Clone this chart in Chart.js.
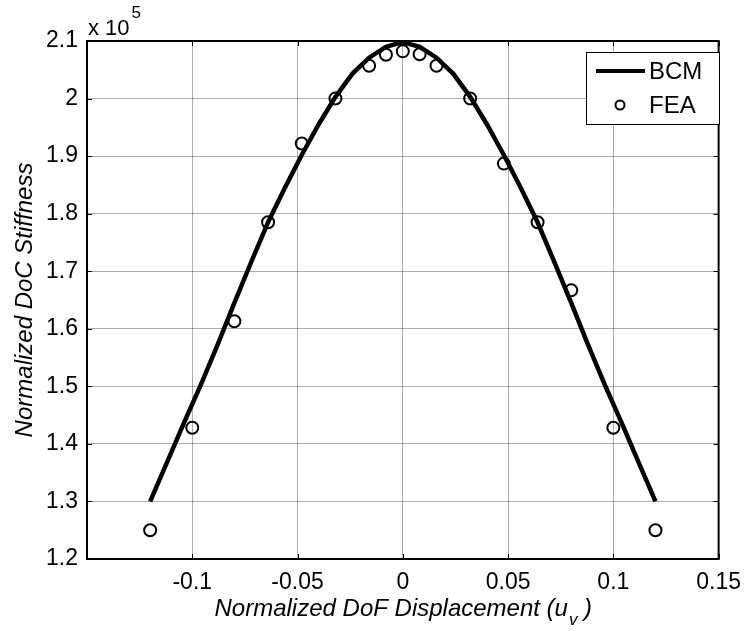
<!DOCTYPE html>
<html>
<head>
<meta charset="utf-8">
<script src="https://cdn.jsdelivr.net/npm/chart.js@4"></script>
<style>
  body { margin: 0; background: #fff; }
</style>
</head>
<body>
<canvas id="stiffness" width="751" height="631"></canvas>
<script>
// BCM curve (values in units of 10^5)
const bcmX = [-0.12, -0.112, -0.104, -0.096, -0.088, -0.08, -0.072, -0.064, -0.056, -0.048, -0.04, -0.032, -0.024, -0.016, -0.008, 0,
              0.008, 0.016, 0.024, 0.032, 0.04, 0.048, 0.056, 0.064, 0.072, 0.08, 0.088, 0.096, 0.104, 0.112, 0.12];
const bcmY = [1.300, 1.368, 1.436, 1.502, 1.572, 1.645, 1.716, 1.785, 1.845, 1.902, 1.955, 2.003, 2.043, 2.071, 2.090, 2.098,
              2.090, 2.071, 2.043, 2.003, 1.955, 1.902, 1.845, 1.785, 1.716, 1.645, 1.572, 1.502, 1.436, 1.368, 1.300];

// FEA points
const feaX = [-0.12, -0.1, -0.08, -0.064, -0.048, -0.032, -0.016, -0.008, 0, 0.008, 0.016, 0.032, 0.048, 0.064, 0.08, 0.1, 0.12];
const feaY = [1.250, 1.428, 1.613, 1.785, 1.922, 2.000, 2.057, 2.076, 2.082, 2.077, 2.057, 2.000, 1.887, 1.785, 1.667, 1.428, 1.250];

const xTickLabels = ['', '-0.1', '-0.05', '0', '0.05', '0.1', '0.15'];
const yTickLabels = ['1.2', '1.3', '1.4', '1.5', '1.6', '1.7', '1.8', '1.9', '2', '2.1'];

const FONT = '"Liberation Sans", Arial, sans-serif';

const toPts = (xs, ys) => xs.map((x, i) => ({ x: x, y: ys[i] }));

// axes box, inward ticks, titles, exponent and legend (MATLAB look)
const matlabDecor = {
    id: 'matlabDecor',
    afterDraw(chart) {
        const ctx = chart.ctx;
        const a = chart.chartArea;
        const xs = chart.scales.x, ys = chart.scales.y;
        ctx.save();

        // ticks pointing inward
        ctx.strokeStyle = '#000';
        ctx.lineWidth = 1;
        ctx.beginPath();
        xs.ticks.forEach(t => {
            const px = Math.round(xs.getPixelForValue(t.value)) + 0.5;
            ctx.moveTo(px, a.bottom); ctx.lineTo(px, a.bottom - 5);
            ctx.moveTo(px, a.top); ctx.lineTo(px, a.top + 5);
        });
        ys.ticks.forEach(t => {
            const py = Math.round(ys.getPixelForValue(t.value)) + 0.5;
            ctx.moveTo(a.left, py); ctx.lineTo(a.left + 5, py);
            ctx.moveTo(a.right, py); ctx.lineTo(a.right - 5, py);
        });
        ctx.stroke();

        // box
        ctx.lineWidth = 2;
        ctx.strokeRect(a.left, a.top, a.right - a.left, a.bottom - a.top);

        ctx.fillStyle = '#000';

        // exponent label
        ctx.font = '22px ' + FONT;
        ctx.textAlign = 'left';
        ctx.textBaseline = 'alphabetic';
        ctx.fillText('x 10', a.left + 1, a.top - 6);
        const w10 = ctx.measureText('x 10').width;
        ctx.font = '17px ' + FONT;
        ctx.fillText('5', a.left + 3 + w10, a.top - 23);

        // x title with subscript
        const main = 'Normalized DoF Displacement (u';
        const tail = ' )';
        ctx.font = 'italic 17px ' + FONT;
        const wSub = ctx.measureText('v').width;
        ctx.font = 'italic 24px ' + FONT;
        const wMain = ctx.measureText(main).width;
        const wTail = ctx.measureText(tail).width;
        const x0 = (a.left + a.right) / 2 - (wMain + wSub + wTail) / 2;
        const by = 616;
        ctx.fillText(main, x0, by);
        ctx.font = 'italic 17px ' + FONT;
        ctx.fillText('v', x0 + wMain + 1, by + 9);
        ctx.font = 'italic 24px ' + FONT;
        ctx.fillText(tail, x0 + wMain + wSub + 1, by);

        // y title
        ctx.save();
        ctx.translate(32, (a.top + a.bottom) / 2);
        ctx.rotate(-Math.PI / 2);
        ctx.textAlign = 'center';
        ctx.fillText('Normalized DoC Stiffness', 0, 0);
        ctx.restore();

        // legend
        const lx = 586, ly = 52, lw = 133, lh = 72;
        ctx.fillStyle = '#fff';
        ctx.fillRect(lx, ly, lw, lh);
        ctx.lineWidth = 1;
        ctx.strokeStyle = '#000';
        ctx.strokeRect(lx + 0.5, ly + 0.5, lw, lh);
        const ds = chart.data.datasets;
        ctx.lineWidth = 4;
        ctx.beginPath();
        ctx.moveTo(596, 71); ctx.lineTo(645, 71);
        ctx.stroke();
        ctx.lineWidth = 2;
        ctx.beginPath();
        ctx.arc(620, 105, 4.5, 0, Math.PI * 2);
        ctx.stroke();
        ctx.fillStyle = '#000';
        ctx.font = '24px ' + FONT;
        ctx.textAlign = 'left';
        ctx.textBaseline = 'middle';
        ctx.fillText(ds[0].label, 649, 72);
        ctx.fillText(ds[1].label, 649, 106);

        ctx.restore();
    }
};

new Chart(document.getElementById('stiffness'), {
    type: 'scatter',
    data: {
        datasets: [{
            label: 'BCM',
            data: toPts(bcmX, bcmY),
            showLine: true,
            borderColor: '#000',
            borderWidth: 4.5,
            pointRadius: 0,
            tension: 0
        }, {
            label: 'FEA',
            data: toPts(feaX, feaY),
            showLine: false,
            borderColor: '#000',
            backgroundColor: 'rgba(0,0,0,0)',
            borderWidth: 2,
            pointRadius: 6,
            pointStyle: 'circle'
        }]
    },
    options: {
        responsive: false,
        devicePixelRatio: 1,
        animation: false,
        layout: { padding: { left: 0, top: 41, right: 25, bottom: 0 } },
        plugins: {
            legend: { display: false },
            tooltip: { enabled: false }
        },
        scales: {
            x: {
                type: 'linear',
                min: -0.15,
                max: 0.15,
                afterFit: s => { s.height = 72; },
                grid: { color: 'rgba(0,0,0,0.32)', lineWidth: 1, drawTicks: false },
                border: { display: false },
                ticks: {
                    stepSize: 0.05,
                    padding: 10,
                    color: '#000',
                    font: { family: FONT, size: 23 },
                    maxRotation: 0,
                    autoSkip: false,
                    callback: (v, i) => xTickLabels[i]
                }
            },
            y: {
                min: 1.2,
                max: 2.1,
                afterFit: s => { s.width = 87; },
                grid: { color: 'rgba(0,0,0,0.32)', lineWidth: 1, drawTicks: false },
                border: { display: false },
                ticks: {
                    stepSize: 0.1,
                    padding: 9,
                    color: '#000',
                    font: { family: FONT, size: 23 },
                    autoSkip: false,
                    callback: (v, i) => yTickLabels[i]
                }
            }
        }
    },
    plugins: [matlabDecor]
});
</script>
</body>
</html>
